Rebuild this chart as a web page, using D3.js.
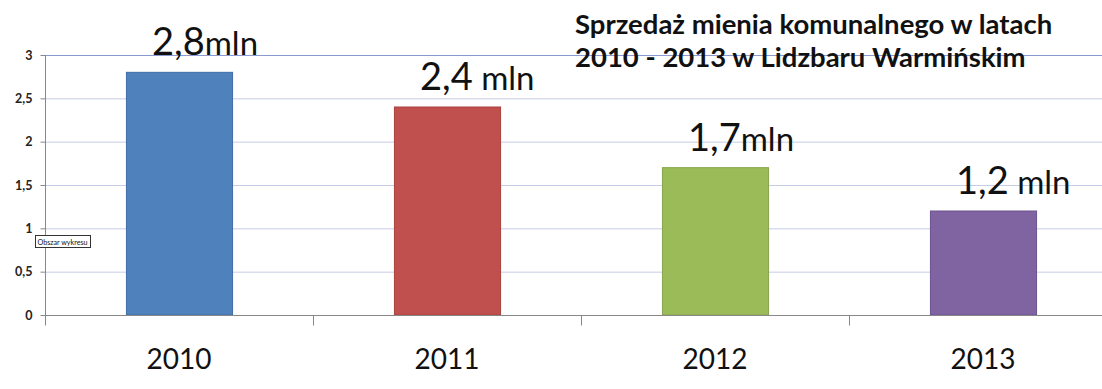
<!DOCTYPE html>
<html><head><meta charset="utf-8">
<script src="https://cdn.jsdelivr.net/npm/d3@7"></script>
<style>body{margin:0;background:#fff}svg{display:block}</style>
</head><body>
<svg id="c" width="1102" height="389"></svg>
<script>
const years = ["2010","2011","2012","2013"];
const values = [2.8, 2.4, 1.7, 1.2];
const valueText = ["2,8", "2,4", "1,7", "1,2"];
const unitText = ["mln", " mln", "mln", " mln"];
const colors = ["#4f81bd","#c0504d","#9bbb59","#8064a2"];
const strokes = ["#3d6ca5","#a8403d","#86a44a","#6c5190"];
const yTicks = [0,0.5,1,1.5,2,2.5,3];
const yTickLabels = ["0","0,5","1","1,5","2","2,5","3"];
const titleLines = ["Sprzedaż mienia komunalnego w latach","2010 - 2013 w Lidzbaru Warmińskim"];

const svg = d3.select("#c");
const font = "Lato, 'Open Sans', sans-serif";
const x = d3.scaleBand().domain(years).range([45,1117]).paddingInner(0.604).paddingOuter(0.302);
const y = d3.scaleLinear().domain([0,3]).range([315,55]);

// gridlines
svg.append("g").selectAll("line").data(yTicks.filter(d=>d>0)).join("line")
  .attr("x1",45).attr("x2",1102).attr("y1",d=>y(d)+0.5).attr("y2",d=>y(d)+0.5)
  .attr("stroke",d=>d===3?"#8a9ad0":"#c6cce6").attr("stroke-width",1);

// y axis
const ya = svg.append("g").attr("transform","translate(45.5,0)")
  .call(d3.axisLeft(y).tickValues(yTicks).tickFormat((d,i)=>yTickLabels[i]).tickSize(5).tickPadding(8));
ya.select(".domain").attr("d","M0,"+y(3)+"V325").attr("stroke","#888");
ya.selectAll(".tick line").attr("stroke","#888");
ya.selectAll(".tick text").attr("font-family",font).attr("font-size",12.5).attr("font-weight","bold").attr("fill","#222");

// bars
svg.append("g").selectAll("rect").data(values).join("rect")
  .attr("x",(d,i)=>x(years[i])+0.5).attr("width",x.bandwidth())
  .attr("y",d=>y(d)).attr("height",d=>y(0)-y(d))
  .attr("fill",(d,i)=>colors[i]).attr("stroke",(d,i)=>strokes[i]).attr("stroke-width",1);

// x axis
const xa = svg.append("g").attr("transform","translate(0,315.5)");
xa.append("line").attr("x1",45).attr("x2",1102).attr("stroke","#888");
const bounds = years.map(yr=>x(yr)-x.step()*x.paddingInner()/2);
xa.selectAll("line.t").data(bounds).join("line").attr("class","t")
  .attr("x1",d=>Math.round(d)+0.5).attr("x2",d=>Math.round(d)+0.5).attr("y1",0).attr("y2",10).attr("stroke","#888");
xa.selectAll("text").data(years).join("text")
  .attr("x",d=>x(d)+x.bandwidth()/2).attr("y",53).attr("text-anchor","middle")
  .attr("font-family",font).attr("font-size",28).attr("fill","#111").text(d=>d);

// value labels
const lbl = svg.append("g").selectAll("text").data(values).join("text")
  .attr("x",(d,i)=>x(years[i])+x.bandwidth()/2-27).attr("y",d=>y(d)-17)
  .attr("font-family",font).attr("fill","#111");
lbl.append("tspan").attr("font-size",38).text((d,i)=>valueText[i]);
lbl.append("tspan").attr("font-size",33).style("white-space","pre").text((d,i)=>unitText[i]);

// title
svg.append("g").selectAll("text").data(titleLines).join("text")
  .attr("x",575).attr("y",(d,i)=>34+i*33)
  .attr("font-family",font).attr("font-weight","bold").attr("font-size",27.5).attr("fill","#111").text(d=>d);

// tooltip box "Obszar wykresu"
const tip = svg.append("g").attr("transform","translate(35,235)");
tip.append("rect").attr("x",0.5).attr("y",0.5).attr("width",55).attr("height",12).attr("fill","#fff").attr("stroke","#333");
tip.append("text").attr("x",2.5).attr("y",9.5).attr("font-family",font).attr("font-size",8)
  .attr("textLength",50).attr("lengthAdjust","spacingAndGlyphs").attr("fill","#111").text("Obszar wykresu");
</script>
</body></html>
